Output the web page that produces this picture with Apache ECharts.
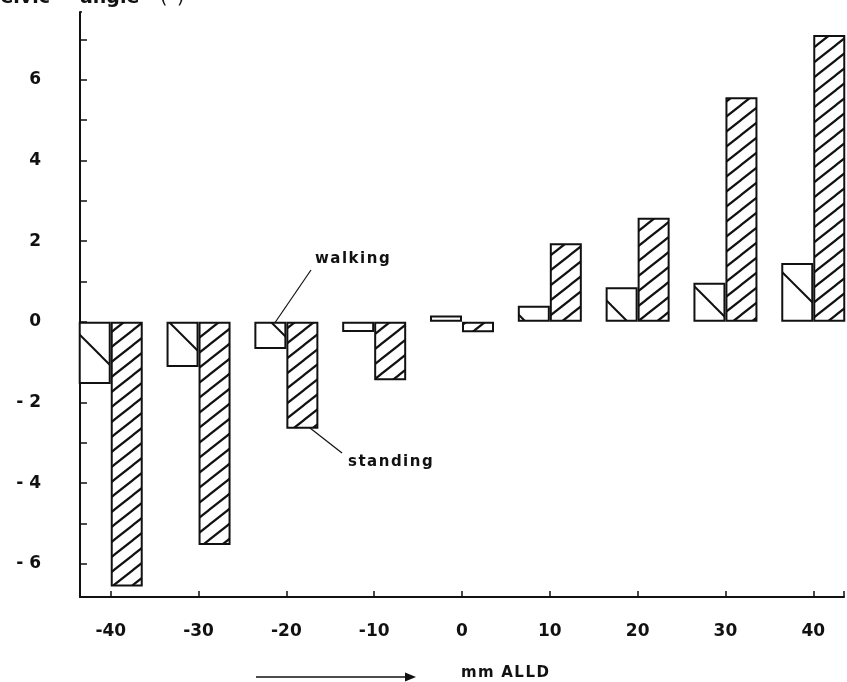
<!DOCTYPE html>
<html><head><meta charset="utf-8">
<script src="https://cdn.jsdelivr.net/npm/echarts/dist/echarts.min.js"></script>
<style>html,body{margin:0;padding:0;background:#fff}#c{width:847px;height:682px}</style>
</head><body><div id="c"></div>
<script>
// ---- data ----
const positions = [-40, -30, -20, -10, 0, 10, 20, 30, 40];   // mm ALLD
const walking  = [-1.54, -1.12, -0.67, -0.25, 0.16, 0.40, 0.86, 0.97, 1.46];
const standing = [-6.56, -5.53, -2.65, -1.45, -0.26, 1.95, 2.58, 5.57, 7.11];
const yTickLabels = [-6, -4, -2, 0, 2, 4, 6];
const xTickLabels = [-40, -30, -20, -10, 0, 10, 20, 30, 40];

// ---- hatch patterns ----
function hatch(w, h, dir, lw) {
  const c = document.createElement('canvas');
  c.width = w; c.height = h;
  const g = c.getContext('2d');
  g.fillStyle = '#fff'; g.fillRect(0, 0, w, h);
  g.strokeStyle = '#111'; g.lineWidth = lw; g.lineCap = 'butt';
  for (let s = -1; s <= 1; s++) {
    g.beginPath();
    if (dir === '/') { g.moveTo(-w + s * w, 2 * h); g.lineTo(2 * w + s * w, -h); }
    else { g.moveTo(-w + s * w, -h); g.lineTo(2 * w + s * w, 2 * h); }
    g.stroke();
  }
  return c;
}
const standPat = hatch(19, 15, '/', 2.2);
const walkPat = hatch(51, 51, '\\', 2);

const FONT = '"DejaVu Sans"';
const W = 'bold';
const sp = s => s.split('').join('\u200A');
const chart = echarts.init(document.getElementById('c'), null, {renderer: 'canvas'});
chart.setOption({
  backgroundColor: '#fff',
  animation: false,
  grid: {left: 80, top: 12, right: 0, bottom: 85},
  xAxis: {
    type: 'value', min: -43.5, max: 43.5,
    minInterval: 10, maxInterval: 10,
    axisLine: {show: true, onZero: false, lineStyle: {color: '#111', width: 2}},
    axisTick: {show: true, inside: true, length: 6, lineStyle: {color: '#111', width: 1.5}},
    splitLine: {show: false},
    axisLabel: {
      margin: 26, color: '#111', fontFamily: FONT, fontWeight: W, fontSize: 17,
      showMinLabel: true, showMaxLabel: true,
      formatter: v => xTickLabels.indexOf(Math.round(v)) >= 0 && Math.abs(v - Math.round(v)) < 1e-6
        ? (v < 0 ? '-' + Math.abs(v) : String(v)) : ''
    }
  },
  yAxis: {
    type: 'value', min: -6.82, max: 7.68,
    minInterval: 1, maxInterval: 1,
    axisLine: {show: true, onZero: false, lineStyle: {color: '#111', width: 2}},
    axisTick: {show: true, inside: true, length: 7, lineStyle: {color: '#111', width: 1.5}},
    splitLine: {show: false},
    axisLabel: {
      margin: 39, color: '#111', fontFamily: FONT, fontWeight: W, fontSize: 17,
      formatter: v => yTickLabels.indexOf(v) >= 0 ? (v < 0 ? '- ' + Math.abs(v) : String(v)) : ''
    }
  },
  series: [
    {
      name: 'walking', type: 'bar', barWidth: 32, barGap: '0%',
      data: positions.map((p, i) => [p, walking[i]]),
      itemStyle: {color: {image: walkPat, repeat: 'repeat'}, borderColor: '#111', borderWidth: 2}
    },
    {
      name: 'standing', type: 'bar', barWidth: 32, barGap: '0%',
      data: positions.map((p, i) => [p, standing[i]]),
      itemStyle: {color: {image: standPat, repeat: 'repeat'}, borderColor: '#111', borderWidth: 2}
    }
  ],
  graphic: [
    // hide the extent tick at the very top of the y axis
    {type: 'rect', z: 100, shape: {x: 82, y: 9, width: 9, height: 6}, style: {fill: '#fff'}},
    {type: 'text', x: 50, y: 8, style: {text: 'Pelvic', fontFamily: FONT, fontWeight: W, fontSize: 19, fill: '#111', align: 'right', verticalAlign: 'bottom'}},
    {type: 'text', x: 80, y: 8, style: {text: 'angle', fontFamily: FONT, fontWeight: W, fontSize: 19, fill: '#111', align: 'left', verticalAlign: 'bottom'}},
    {type: 'text', x: 160, y: 8, style: {text: '(°)', fontFamily: FONT, fontWeight: 'normal', fontSize: 19, fill: '#111', align: 'left', verticalAlign: 'bottom'}},
    {type: 'text', x: 315, y: 259, style: {text: sp('walking'), fontFamily: FONT, fontWeight: W, fontSize: 15, fill: '#111', align: 'left', verticalAlign: 'middle'}},
    {type: 'line', shape: {x1: 311, y1: 270, x2: 272, y2: 327}, style: {stroke: '#111', lineWidth: 1.2}},
    {type: 'text', x: 348, y: 462, style: {text: sp('standing'), fontFamily: FONT, fontWeight: W, fontSize: 15, fill: '#111', align: 'left', verticalAlign: 'middle'}},
    {type: 'line', shape: {x1: 310, y1: 428, x2: 342, y2: 453}, style: {stroke: '#111', lineWidth: 1.2}},
    {type: 'text', x: 461, y: 673, style: {text: sp('mm') + '\u2002' + sp('ALLD'), fontFamily: FONT, fontWeight: W, fontSize: 15, fill: '#111', align: 'left', verticalAlign: 'middle'}},
    {type: 'line', shape: {x1: 256, y1: 677, x2: 408, y2: 677}, style: {stroke: '#111', lineWidth: 1.6}},
    {type: 'polygon', shape: {points: [[405, 672.5], [416, 677], [405, 681.5]]}, style: {fill: '#111'}}
  ]
});
</script>
</body></html>
